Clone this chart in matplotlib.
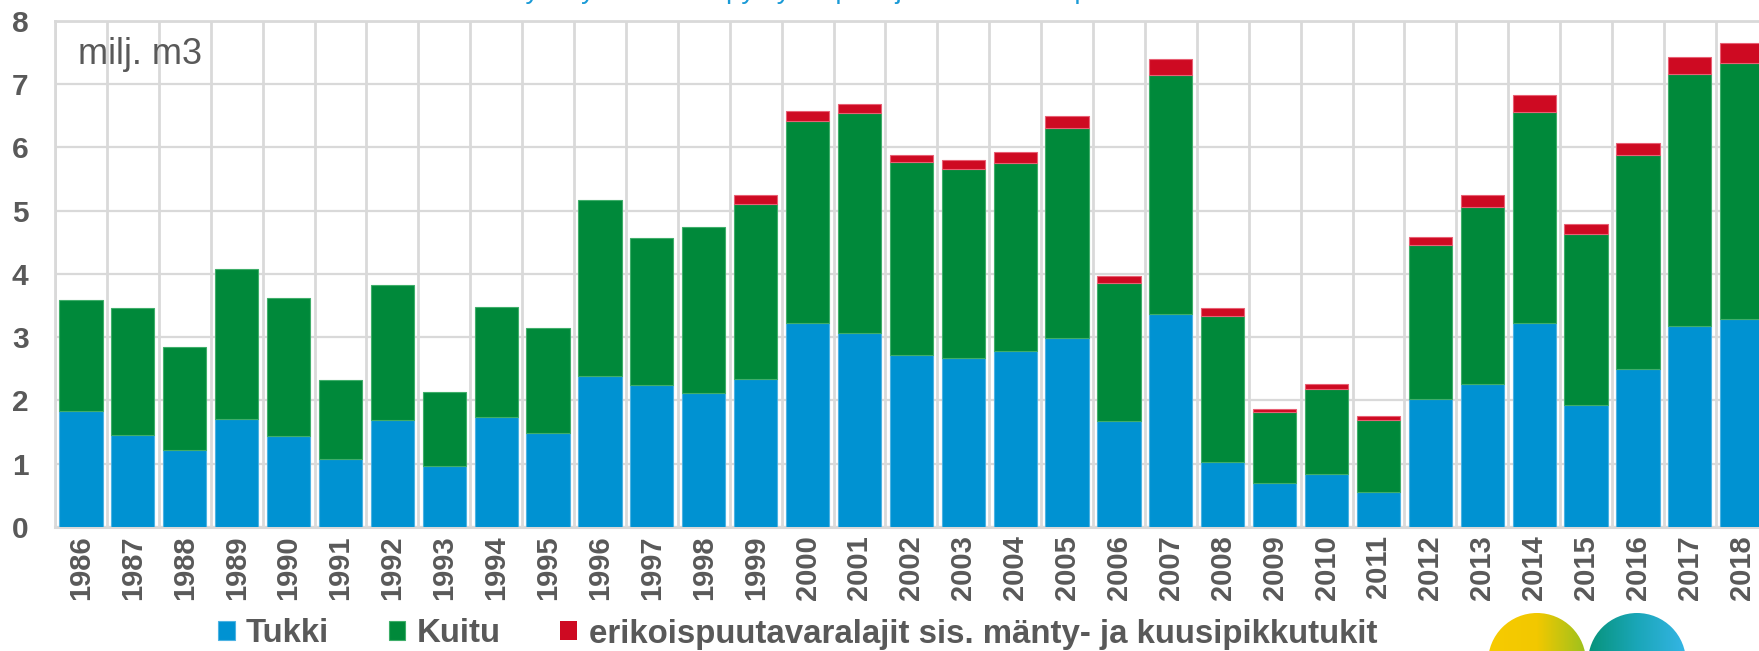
import matplotlib
matplotlib.use("Agg")
import matplotlib.pyplot as plt
import numpy as np
from matplotlib.patches import Circle

plt.rcParams['font.family'] = ['Liberation Sans', 'DejaVu Sans']

years = [str(y) for y in range(1986, 2019)]
tukki = [1.83, 1.45, 1.22, 1.70, 1.43, 1.07, 1.69, 0.97, 1.73, 1.48,
         2.39, 2.24, 2.11, 2.34, 3.22, 3.06, 2.72, 2.67, 2.78, 2.98,
         1.68, 3.36, 1.03, 0.69, 0.83, 0.56, 2.03, 2.26, 3.22, 1.93,
         2.49, 3.17, 3.29]
total_kuitu = [3.58, 3.46, 2.85, 4.07, 3.61, 2.32, 3.82, 2.14, 3.48, 3.15,
               5.17, 4.56, 4.74, 5.10, 6.42, 6.54, 5.76, 5.65, 5.75, 6.30,
               3.86, 7.14, 3.34, 1.81, 2.18, 1.69, 4.45, 5.06, 6.56, 4.63,
               5.87, 7.15, 7.33]
total_all = [3.58, 3.46, 2.85, 4.07, 3.61, 2.32, 3.82, 2.14, 3.48, 3.15,
             5.17, 4.56, 4.74, 5.25, 6.57, 6.69, 5.87, 5.79, 5.92, 6.49,
             3.97, 7.39, 3.46, 1.86, 2.26, 1.75, 4.58, 5.25, 6.82, 4.79,
             6.07, 7.42, 7.64]
kuitu = list(np.round(np.array(total_kuitu) - np.array(tukki), 2))
erikois = list(np.round(np.array(total_all) - np.array(total_kuitu), 2))

series_labels = ['Tukki', 'Kuitu', 'erikoispuutavaralajit sis. mänty- ja kuusipikkutukit']
colors = ['#0092D2', '#00893A', '#CE0A22']
edges = ['#4DB3E3', '#3FAE6A', '#E86074']
yticks = [0, 1, 2, 3, 4, 5, 6, 7, 8]
unit_label = 'milj. m3'
title_text = 'Hakkuut yksityismetsistä pystykaupoin ja hankintakaupoin'

gray = '#595959'
grid_c = '#D9D9D9'

W, H = 1759, 651
fig = plt.figure(figsize=(W / 100, H / 100), dpi=100)
ax = fig.add_axes([55 / W, (H - 527) / H, 1712.7 / W, 506.4 / H])

x = np.arange(len(years))
bw = 0.834
b1 = ax.bar(x, tukki, width=bw, color=colors[0], edgecolor=edges[0], linewidth=0.8,
            label=series_labels[0], zorder=3)
b2 = ax.bar(x, kuitu, width=bw, bottom=tukki, color=colors[1], edgecolor=edges[1],
            linewidth=0.8, label=series_labels[1], zorder=3)
red_edges = [edges[2] if v > 0 else 'none' for v in erikois]
b3 = ax.bar(x, erikois, width=bw, bottom=total_kuitu, color=colors[2], edgecolor=red_edges,
            linewidth=0.8, label=series_labels[2], zorder=3)

ax.set_xlim(-0.5, len(years) - 0.5)
ax.set_ylim(0, 8)
ax.set_yticks(yticks)
ax.set_yticklabels([str(t) for t in yticks], fontsize=21.5, fontweight='bold', color=gray)
ax.set_xticks(x)
ax.set_xticklabels(years, rotation=90, fontsize=21, fontweight='bold', color=gray)
ax.set_xticks(np.arange(-0.5, len(years), 1), minor=True)
ax.tick_params(axis='y', length=0, pad=19)
ax.tick_params(axis='x', which='both', length=0, pad=6)
ax.grid(axis='y', which='major', color=grid_c, linewidth=1.6, zorder=0)
ax.grid(axis='x', which='minor', color=grid_c, linewidth=2.0, zorder=0)
ax.grid(axis='x', which='major', visible=False)
ax.set_axisbelow(True)
for s in ['top', 'left', 'right']:
    ax.spines[s].set_color(grid_c)
    ax.spines[s].set_linewidth(2.0)
ax.spines['bottom'].set_color(grid_c)
ax.spines['bottom'].set_linewidth(2.2)

ax.text(-0.06, 7.31, unit_label, fontsize=26, color=gray, ha='left', va='baseline')

leg = fig.legend(handles=[b1, b2, b3], loc='center left',
                 bbox_to_anchor=(218 / W, 1 - 634 / H), ncol=3, frameon=False,
                 prop={'size': 23.8, 'weight': 'bold'}, handlelength=0.5, handleheight=0.5,
                 handletextpad=0.35, columnspacing=1.8, borderpad=0, borderaxespad=0)
for t in leg.get_texts():
    t.set_color(gray)

# title (cut off at the top edge, as in the source image)
fig.text(416 / W, 1 + 1.5 / H, title_text, fontsize=20, color='#1A9AD6',
         ha='left', va='baseline')

# logo circles (partially visible)
lax = fig.add_axes([0, 0, 1, 1], zorder=5)
lax.set_xlim(0, W)
lax.set_ylim(H, 0)
lax.axis('off')
grad = np.linspace(0, 1, 256).reshape(1, -1)
ymap = matplotlib.colors.LinearSegmentedColormap.from_list('y', ['#F7CB00', '#F2C800', '#9CC11E'])
tmap = matplotlib.colors.LinearSegmentedColormap.from_list('t', ['#07937A', '#1AA6B8', '#35B5E5'])
for cx, cmap in [(1537, ymap), (1637, tmap)]:
    r = 49
    im = lax.imshow(grad, cmap=cmap, extent=(cx - r, cx + r, 662 + r, 662 - r), aspect='auto')
    circ = Circle((cx, 662), r, transform=lax.transData, facecolor='none', edgecolor='none')
    lax.add_patch(circ)
    im.set_clip_path(circ)
lax.set_xlim(0, W)
lax.set_ylim(H, 0)

fig.savefig('out.png', dpi=100)
